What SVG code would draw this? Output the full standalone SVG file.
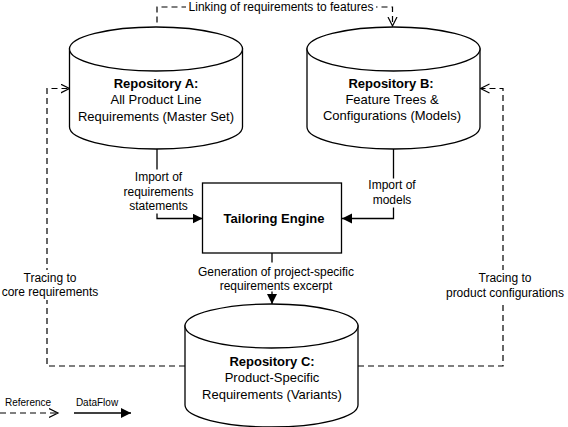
<svg xmlns="http://www.w3.org/2000/svg" width="568" height="427" viewBox="0 0 568 427">
<style>
  text { font-family: "Liberation Sans", Arial, sans-serif; fill: #000; }
  .node { font-size: 13px; text-anchor: middle; }
  .title { font-weight: bold; }
  .lbl { font-size: 12px; text-anchor: middle; }
  .leg { font-size: 10px; text-anchor: middle; }
  .shape { fill: #fff; stroke: #000; stroke-width: 1.3; }
  .flow { fill: none; stroke: #000; stroke-width: 1.3; }
  .ref { fill: none; stroke: #000; stroke-width: 1.2; stroke-dasharray: 6 4; }
  .bg { fill: #fff; stroke: none; }
</style>
<defs>
  <marker id="open" markerUnits="userSpaceOnUse" markerWidth="12" markerHeight="12" refX="9" refY="5" orient="auto">
    <path d="M0,0.5 L9,5 L0,9.5" fill="none" stroke="#000" stroke-width="1.2"/>
  </marker>
  <marker id="solid" markerUnits="userSpaceOnUse" markerWidth="12" markerHeight="12" refX="10" refY="5" orient="auto">
    <path d="M0,0 L10,5 L0,10 Z" fill="#000" stroke="none"/>
  </marker>
</defs>

<g id="connectors">
  <!-- Linking of requirements to features -->
  <path class="ref" d="M157,22.5 L157,7 L392.5,7 L392.5,26" marker-end="url(#open)"/>
  <rect class="bg" x="186" y="0" width="190" height="14"/>
  <text class="lbl" x="281" y="11">Linking of requirements to features</text>

  <!-- Tracing to core requirements -->
  <path class="ref" d="M185,366 L47,366 L47,88.5 L69.5,88.5" marker-end="url(#open)"/>
  <rect class="bg" x="0" y="270" width="100" height="30"/>
  <text class="lbl" x="50" y="282">Tracing to</text>
  <text class="lbl" x="50" y="296">core requirements</text>

  <!-- Tracing to product configurations -->
  <path class="ref" d="M358,366 L503,366 L503,88.5 L480.5,88.5" marker-end="url(#open)"/>
  <rect class="bg" x="444" y="270" width="124" height="32"/>
  <text class="lbl" x="505" y="282">Tracing to</text>
  <text class="lbl" x="505" y="297">product configurations</text>

  <!-- Import of requirements statements -->
  <path class="flow" d="M157,149 L157,218.5 L202.5,218.5" marker-end="url(#solid)"/>
  <rect class="bg" x="120" y="169.5" width="76" height="44"/>
  <text class="lbl" x="158.5" y="181">Import of</text>
  <text class="lbl" x="158.5" y="196">requirements</text>
  <text class="lbl" x="158.5" y="210">statements</text>

  <!-- Import of models -->
  <path class="flow" d="M393.5,149 L393.5,218.5 L342,218.5" marker-end="url(#solid)"/>
  <rect class="bg" x="364" y="178.5" width="56" height="29"/>
  <text class="lbl" x="392" y="189">Import of</text>
  <text class="lbl" x="392" y="204">models</text>

  <!-- Generation of project-specific requirements excerpt -->
  <path class="flow" d="M272,253 L272,304" marker-end="url(#solid)"/>
  <rect class="bg" x="195" y="262.5" width="162" height="29"/>
  <text class="lbl" x="276" y="276">Generation of project-specific</text>
  <text class="lbl" x="276" y="290">requirements excerpt</text>
</g>

<g id="repoA">
  <path class="shape" d="M69.5,49 L69.5,127 A86.5,22 0 0 0 242.5,127 L242.5,49 Z"/>
  <ellipse class="shape" cx="156" cy="49" rx="86.5" ry="22"/>
  <text class="node title" x="156" y="88">Repository A:</text>
  <text class="node" x="156" y="104">All Product Line</text>
  <text class="node" x="156" y="120.5">Requirements (Master Set)</text>
</g>

<g id="repoB">
  <path class="shape" d="M307,49 L307,127 A86.5,22 0 0 0 480,127 L480,49 Z"/>
  <ellipse class="shape" cx="393.5" cy="49" rx="86.5" ry="22"/>
  <text class="node title" x="391" y="87.5">Repository B:</text>
  <text class="node" x="392" y="104">Feature Trees &amp;</text>
  <text class="node" x="392" y="120">Configurations (Models)</text>
</g>

<g id="engine">
  <rect class="shape" x="202.5" y="183" width="139" height="70"/>
  <text class="node title" x="274" y="222.5">Tailoring Engine</text>
</g>

<g id="repoC">
  <path class="shape" d="M185,326 L185,405 A86.5,22 0 0 0 358,405 L358,326 Z"/>
  <ellipse class="shape" cx="271.5" cy="326" rx="86.5" ry="22"/>
  <text class="node title" x="272" y="365.5">Repository C:</text>
  <text class="node" x="272" y="382">Product-Specific</text>
  <text class="node" x="272" y="398.5">Requirements (Variants)</text>
</g>

<g id="legend">
  <text class="leg" x="28" y="405.5">Reference</text>
  <path class="ref" d="M0,413 L58,413" marker-end="url(#open)"/>
  <text class="leg" x="97" y="405.5">DataFlow</text>
  <path class="flow" d="M74,413 L131,413" marker-end="url(#solid)"/>
</g>
</svg>
